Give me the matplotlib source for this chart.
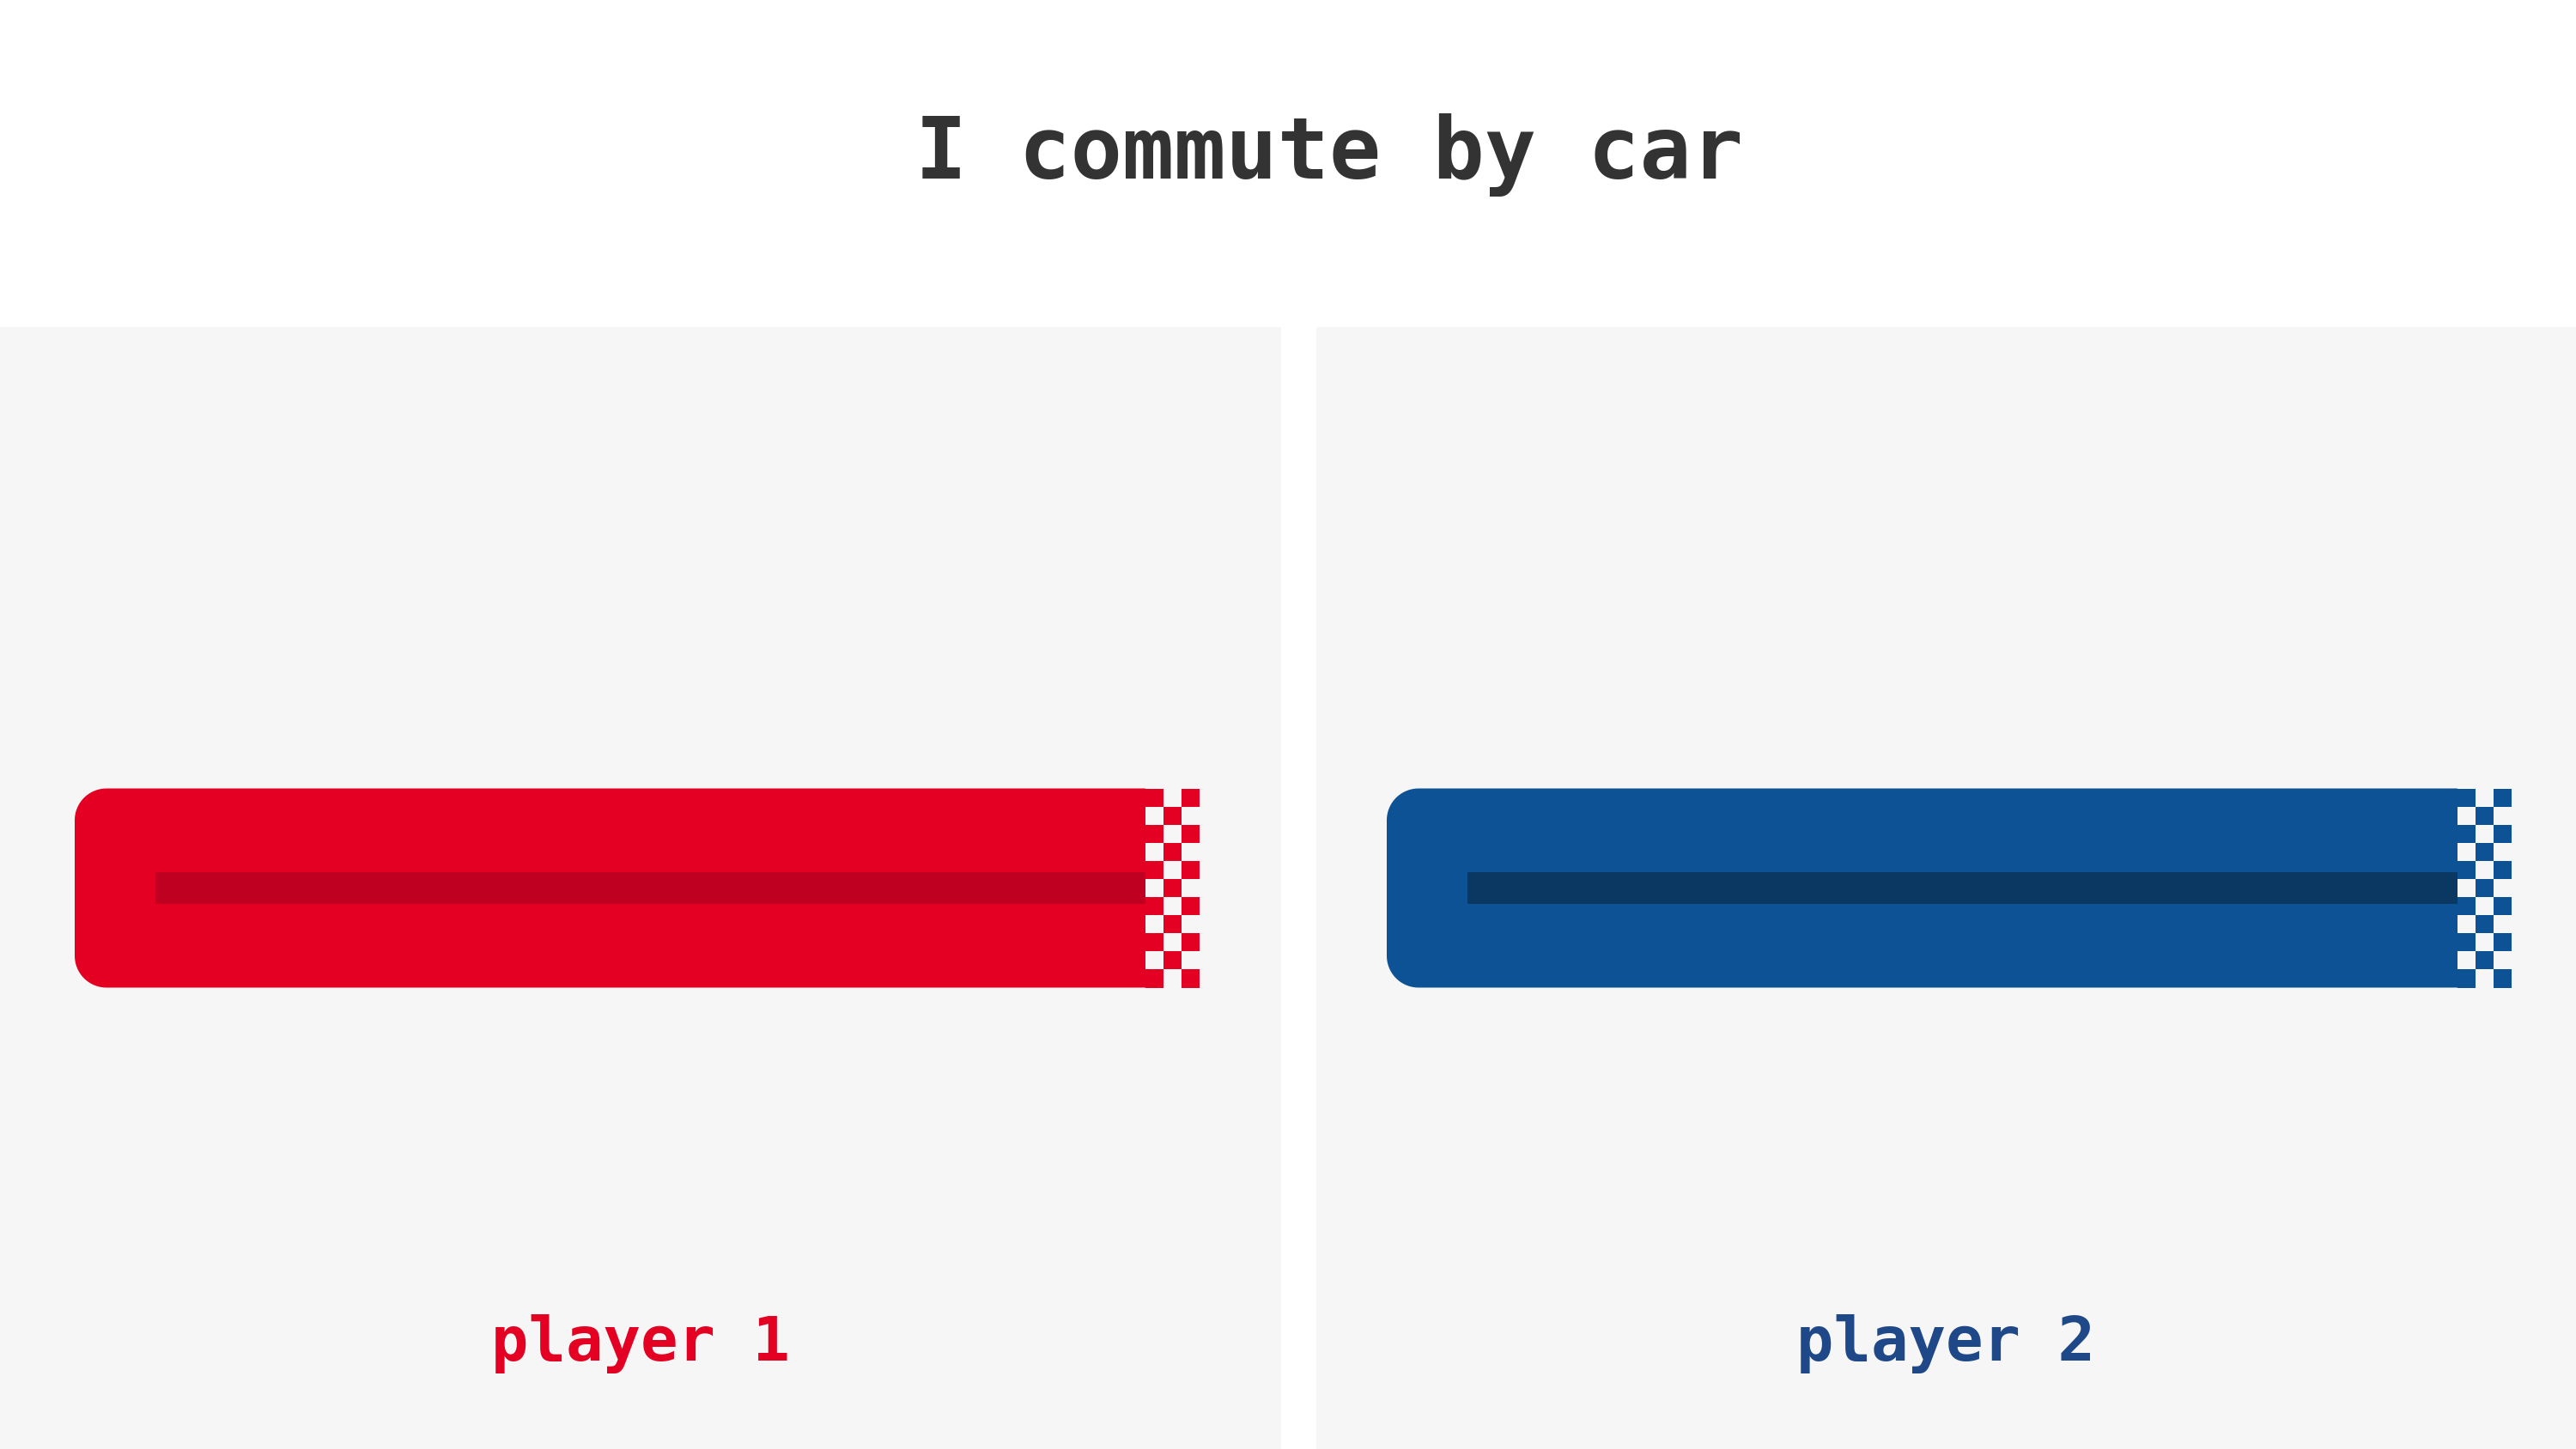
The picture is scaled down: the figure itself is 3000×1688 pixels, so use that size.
import numpy as np
import matplotlib
matplotlib.use("Agg")
import matplotlib.pyplot as plt
from matplotlib.patches import PathPatch, Rectangle
from matplotlib.path import Path

# Data
players = ["player 1", "player 2"]
values = [100, 100]
title = "I commute by car"

# Style
bar_colors = ["#E30022", "#0D5294"]
stripe_colors = ["#BF0020", "#0A3862"]
label_colors = ["#E30022", "#1E4887"]
panel_bg = "#F6F6F6"
font = "DejaVu Sans Mono"

W, H = 3000, 1688
fig = plt.figure(figsize=(W / 100, H / 100), dpi=100)
fig.patch.set_facecolor("white")

# panel geometry in pixels: (left, width), bar start offset inside panel
panels = [(0, 1492), (1533, 1467)]
bar_offset = [87, 82]
panel_top = 381
px_per_unit = 12.47          # pixels per value unit (same on x and y)
bar_h = 232 / px_per_unit
stripe_h = 37 / px_per_unit
radius = 37 / px_per_unit
n_rows = 11


def left_rounded_bar(length, h, r):
    # bar outline with rounded left corners, square right end
    t = np.linspace(0, np.pi / 2, 20)
    top = [(r - r * np.sin(a), h / 2 - r + r * np.cos(a)) for a in t]
    bot = [(r - r * np.cos(a), -h / 2 + r - r * np.sin(a)) for a in t]
    pts = [(length, -h / 2), (length, h / 2)] + top + bot + [(length, -h / 2)]
    return Path(pts, closed=True)


fig.text(1548 / W, 1 - 208 / H, title, ha="center", va="baseline",
         fontsize=72, fontweight="bold", color="#333333", family=font)

for i, (name, val) in enumerate(zip(players, values)):
    left, width = panels[i]
    ax_h = H - panel_top
    ax = fig.add_axes([left / W, 0, width / W, ax_h / H])
    ax.set_facecolor(panel_bg)
    x0 = -bar_offset[i] / px_per_unit
    ax.set_xlim(x0, x0 + width / px_per_unit)
    ax.set_ylim(-ax_h / 2 / px_per_unit, ax_h / 2 / px_per_unit)
    for s in ax.spines.values():
        s.set_visible(False)
    ax.set_xticks([])
    ax.set_yticks([])

    # main bar
    ax.add_patch(PathPatch(left_rounded_bar(val, bar_h, radius),
                           fc=bar_colors[i], ec="none"))
    # darker centre stripe
    s0 = val * 0.075
    ax.add_patch(Rectangle((s0, -stripe_h / 2), val - s0, stripe_h,
                           fc=stripe_colors[i], ec="none"))
    # checkered finish flag
    sq = bar_h / n_rows
    for r in range(n_rows):
        for c in range(3):
            if (r + c) % 2 == 0:
                ax.add_patch(Rectangle((val + c * sq, bar_h / 2 - (r + 1) * sq),
                                       sq, sq, fc=bar_colors[i], ec="none"))

    ax.text(0.5, 103 / ax_h, name, transform=ax.transAxes, ha="center",
            va="baseline", fontsize=52, fontweight="bold",
            color=label_colors[i], family=font)

fig.savefig("out.png", dpi=100, facecolor=fig.get_facecolor())
